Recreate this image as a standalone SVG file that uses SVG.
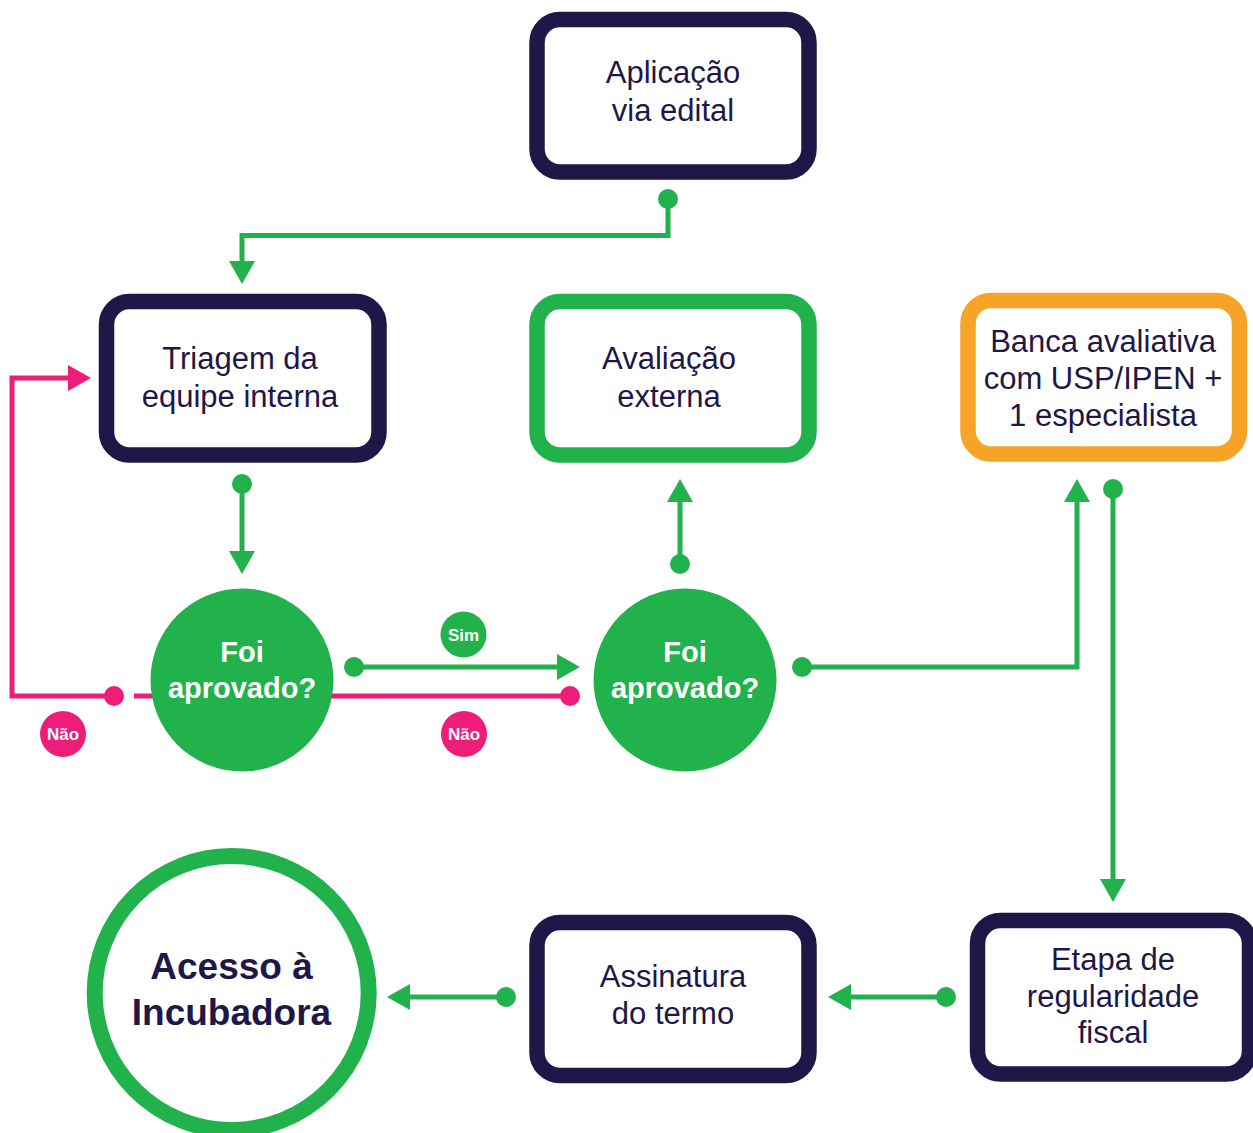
<svg xmlns="http://www.w3.org/2000/svg" width="1253" height="1133" viewBox="0 0 1253 1133">
<style>
.box{fill:#fff;stroke-width:15.5}
.navy{stroke:#1f1747}
.gbox{stroke:#22b24c}
.obox{stroke:#f7a325}
.t{font-family:"Liberation Sans",Arial,sans-serif;font-size:31px;fill:#1f1747;text-anchor:middle}
.q{font-family:"Liberation Sans",Arial,sans-serif;font-size:29px;font-weight:bold;fill:#fff;text-anchor:middle}
.lbl{font-family:"Liberation Sans",Arial,sans-serif;font-size:17px;font-weight:bold;fill:#fff;text-anchor:middle}
.g{stroke:#22b24c;stroke-width:5;fill:none}
.p{stroke:#ee1d7a;stroke-width:5;fill:none}
.gf{fill:#22b24c}
.pf{fill:#ee1d7a}
</style>
<g id="connectors">
  <!-- Aplicacao -> Triagem -->
  <polyline class="g" points="668,199 668,235.5 242,235.5 242,262"/>
  <circle class="gf" cx="668" cy="199" r="10"/>
  <polygon class="gf" points="229,261 255,261 242,284"/>
  <!-- Triagem -> Foi1 -->
  <line class="g" x1="242" y1="484" x2="242" y2="552"/>
  <circle class="gf" cx="242" cy="484" r="10"/>
  <polygon class="gf" points="229,551 255,551 242,574"/>
  <!-- Sim: Foi1 -> Foi2 -->
  <line class="g" x1="354" y1="667" x2="558" y2="667"/>
  <circle class="gf" cx="354" cy="667" r="10"/>
  <polygon class="gf" points="557,654 557,680 580,667"/>
  <!-- Foi2 -> Avaliacao externa -->
  <line class="g" x1="680" y1="564" x2="680" y2="501"/>
  <circle class="gf" cx="680" cy="564" r="10"/>
  <polygon class="gf" points="667,502 693,502 680,479"/>
  <!-- Foi2 -> Banca -->
  <polyline class="g" points="802,667 1077,667 1077,501"/>
  <circle class="gf" cx="802" cy="667" r="10"/>
  <polygon class="gf" points="1064,502 1090,502 1077,479"/>
  <!-- Banca -> Etapa -->
  <line class="g" x1="1113" y1="489" x2="1113" y2="880"/>
  <circle class="gf" cx="1113" cy="489" r="10"/>
  <polygon class="gf" points="1100,879 1126,879 1113,902"/>
  <!-- Etapa -> Assinatura -->
  <line class="g" x1="946" y1="997" x2="850" y2="997"/>
  <circle class="gf" cx="946" cy="997" r="10"/>
  <polygon class="gf" points="851,984 851,1010 828,997"/>
  <!-- Assinatura -> Acesso -->
  <line class="g" x1="506" y1="997" x2="409" y2="997"/>
  <circle class="gf" cx="506" cy="997" r="10"/>
  <polygon class="gf" points="410,984 410,1010 387,997"/>
  <!-- Nao lines -->
  <line class="p" x1="134" y1="696" x2="570" y2="696"/>
  <circle class="pf" cx="570" cy="696" r="10"/>
  <polyline class="p" points="114,696 12,696 12,378 69,378"/>
  <circle class="pf" cx="114" cy="696" r="10"/>
  <polygon class="pf" points="68,365 68,391 91,378"/>
</g>
<g id="label-sim">
  <circle class="gf" cx="463.5" cy="634.5" r="23"/>
  <text class="lbl" x="463.5" y="640.5">Sim</text>
</g>
<g id="label-nao-1">
  <circle class="pf" cx="63" cy="734" r="23"/>
  <text class="lbl" x="63" y="740">Não</text>
</g>
<g id="label-nao-2">
  <circle class="pf" cx="464" cy="734" r="23"/>
  <text class="lbl" x="464" y="740">Não</text>
</g>
<g id="node-aplicacao">
  <rect class="box navy" x="537" y="19.5" width="272" height="152.5" rx="23"/>
  <text class="t" x="673" y="83">Aplicação</text>
  <text class="t" x="673" y="121">via edital</text>
</g>
<g id="node-triagem">
  <rect class="box navy" x="106.5" y="301.5" width="272.5" height="153.5" rx="23"/>
  <text class="t" x="240" y="369">Triagem da</text>
  <text class="t" x="240" y="407">equipe interna</text>
</g>
<g id="node-avaliacao">
  <rect class="box gbox" x="537" y="301.5" width="272" height="153.5" rx="23"/>
  <text class="t" x="669" y="369">Avaliação</text>
  <text class="t" x="669" y="407">externa</text>
</g>
<g id="node-banca">
  <rect class="box obox" x="968" y="300.5" width="271.5" height="153.5" rx="23"/>
  <text class="t" x="1103" y="352">Banca avaliativa</text>
  <text class="t" x="1103" y="389">com USP/IPEN +</text>
  <text class="t" x="1103" y="426">1 especialista</text>
</g>
<g id="node-foi1">
  <circle class="gf" cx="242" cy="680" r="91.5"/>
  <text class="q" x="242" y="662">Foi</text>
  <text class="q" x="242" y="698">aprovado?</text>
</g>
<g id="node-foi2">
  <circle class="gf" cx="685" cy="680" r="91.5"/>
  <text class="q" x="685" y="662">Foi</text>
  <text class="q" x="685" y="698">aprovado?</text>
</g>
<g id="node-etapa">
  <rect class="box navy" x="977.5" y="920.5" width="272" height="153.5" rx="23"/>
  <text class="t" x="1113" y="970">Etapa de</text>
  <text class="t" x="1113" y="1007">regularidade</text>
  <text class="t" x="1113" y="1043">fiscal</text>
</g>
<g id="node-assinatura">
  <rect class="box navy" x="537" y="922.5" width="272" height="153" rx="23"/>
  <text class="t" x="673" y="987">Assinatura</text>
  <text class="t" x="673" y="1024">do termo</text>
</g>
<g id="node-acesso">
  <circle cx="231.7" cy="993" r="137" fill="#fff" stroke="#22b24c" stroke-width="16"/>
  <text x="231.5" y="979" font-family="Liberation Sans, Arial, sans-serif" font-size="37" font-weight="bold" fill="#1f1747" text-anchor="middle">Acesso à</text>
  <text x="231.5" y="1025" font-family="Liberation Sans, Arial, sans-serif" font-size="37" font-weight="bold" fill="#1f1747" text-anchor="middle">Incubadora</text>
</g>
</svg>
